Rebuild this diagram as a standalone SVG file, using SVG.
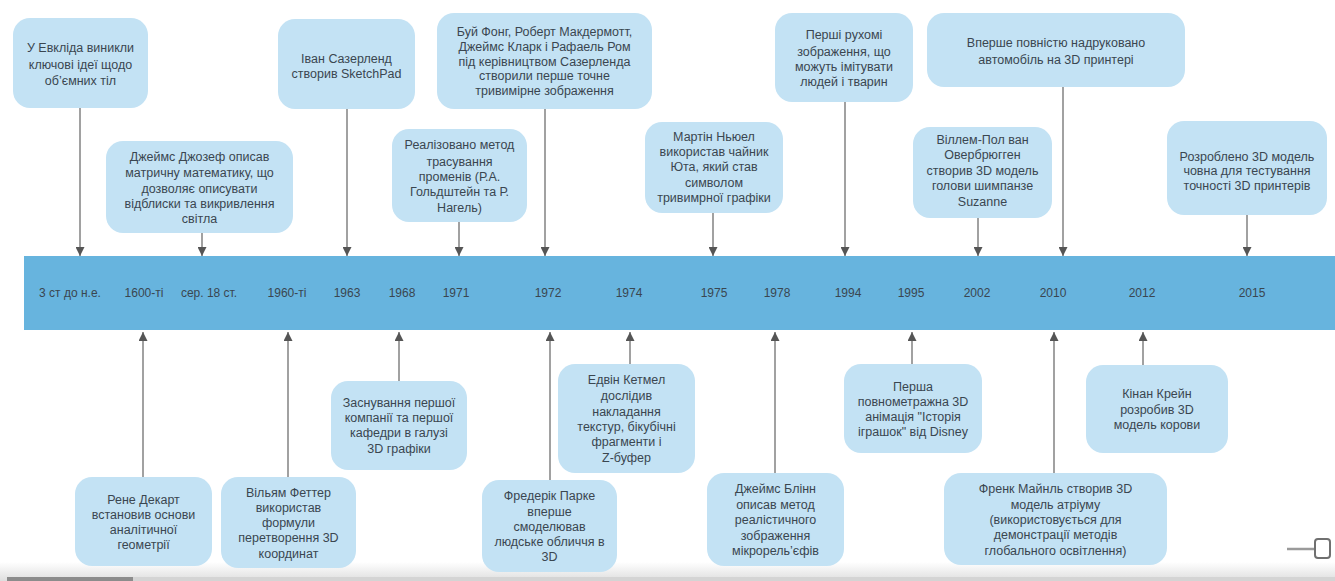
<svg xmlns="http://www.w3.org/2000/svg" width="1335" height="581" viewBox="0 0 1335 581">
<defs>
<marker id="ah" markerUnits="userSpaceOnUse" markerWidth="9" markerHeight="9" refX="9" refY="4.5" orient="auto">
<path d="M0,0 L9,4.5 L0,9 z" fill="#555"/>
</marker>
<linearGradient id="bottomfade" x1="0" y1="0" x2="0" y2="1">
<stop offset="0" stop-color="#ffffff"/>
<stop offset="1" stop-color="#dedede"/>
</linearGradient>
<style>
.box{fill:#c3e2f4;}
.t{font-family:"Liberation Sans",Arial,sans-serif;font-size:12.5px;fill:#3a4650;text-anchor:middle;}
.y{font-family:"Liberation Sans",Arial,sans-serif;font-size:12px;fill:#3a4650;text-anchor:middle;}
.c{stroke:#8a8a8a;stroke-width:1.6;fill:none;marker-end:url(#ah);}
</style>
</defs>
<rect width="1335" height="581" fill="#ffffff"/>
<rect x="0" y="562" width="1335" height="19" fill="url(#bottomfade)"/>
<rect x="7" y="577" width="126" height="4" fill="#8c8c8c"/>
<rect x="133" y="577" width="1202" height="4" fill="#d4d4d4"/>
<line x1="1287" y1="549" x2="1314" y2="549" stroke="#9a9a9a" stroke-width="2.5"/>
<rect x="1315" y="539" width="15" height="19" rx="3" fill="#ffffff" stroke="#707070" stroke-width="2"/>

<g id="timeline">
<rect x="24" y="256" width="1311" height="74" fill="#67b4de"/>
<text class="y" x="70" y="297">3 ст до н.е.</text>
<text class="y" x="144" y="297">1600-ті</text>
<text class="y" x="209" y="297">сер. 18 ст.</text>
<text class="y" x="287" y="297">1960-ті</text>
<text class="y" x="347" y="297">1963</text>
<text class="y" x="402" y="297">1968</text>
<text class="y" x="456" y="297">1971</text>
<text class="y" x="548" y="297">1972</text>
<text class="y" x="629" y="297">1974</text>
<text class="y" x="714" y="297">1975</text>
<text class="y" x="777" y="297">1978</text>
<text class="y" x="848" y="297">1994</text>
<text class="y" x="911" y="297">1995</text>
<text class="y" x="977" y="297">2002</text>
<text class="y" x="1053" y="297">2010</text>
<text class="y" x="1142" y="297">2012</text>
<text class="y" x="1252" y="297">2015</text>
</g>

<g id="connectors">
<line class="c" x1="80" y1="108" x2="80" y2="256"/>
<line class="c" x1="202" y1="233" x2="202" y2="256"/>
<line class="c" x1="347" y1="109" x2="347" y2="256"/>
<line class="c" x1="459" y1="222" x2="459" y2="256"/>
<line class="c" x1="545" y1="109" x2="545" y2="256"/>
<line class="c" x1="713" y1="213" x2="713" y2="256"/>
<line class="c" x1="845" y1="102" x2="845" y2="256"/>
<line class="c" x1="1063" y1="87" x2="1063" y2="256"/>
<line class="c" x1="978" y1="218" x2="978" y2="256"/>
<line class="c" x1="1247" y1="215" x2="1247" y2="256"/>
<line class="c" x1="143" y1="477" x2="143" y2="332"/>
<line class="c" x1="288" y1="477" x2="288" y2="332"/>
<line class="c" x1="399" y1="381" x2="399" y2="332"/>
<line class="c" x1="550" y1="480" x2="550" y2="332"/>
<line class="c" x1="630" y1="364" x2="630" y2="332"/>
<line class="c" x1="775" y1="473" x2="775" y2="332"/>
<line class="c" x1="912" y1="364" x2="912" y2="332"/>
<line class="c" x1="1054" y1="473" x2="1054" y2="332"/>
<line class="c" x1="1143" y1="365" x2="1143" y2="332"/>
</g>

<g id="n-euclid">
<rect class="box" x="13" y="18" width="135" height="90" rx="17"/>
<text class="t" x="80.5" y="52">У Евкліда виникли</text>
<text class="t" x="80.5" y="69">ключові ідеї щодо</text>
<text class="t" x="80.5" y="85">об’ємних тіл</text>
</g>
<g id="n-joseph">
<rect class="box" x="106" y="141" width="187" height="92" rx="17"/>
<text class="t" x="199.5" y="161">Джеймс Джозеф описав</text>
<text class="t" x="199.5" y="177">матричну математику, що</text>
<text class="t" x="199.5" y="193">дозволяє описувати</text>
<text class="t" x="199.5" y="208">відблиски та викривлення</text>
<text class="t" x="199.5" y="223">світла</text>
</g>
<g id="n-sutherland">
<rect class="box" x="278" y="19" width="137" height="90" rx="17"/>
<text class="t" x="346.5" y="63">Іван Сазерленд</text>
<text class="t" x="346.5" y="78">створив SketchPad</text>
</g>
<g id="n-raytrace">
<rect class="box" x="392" y="129" width="135" height="93" rx="17"/>
<text class="t" x="459.5" y="149">Реалізовано метод</text>
<text class="t" x="459.5" y="166">трасування</text>
<text class="t" x="459.5" y="181">променів (Р.А.</text>
<text class="t" x="459.5" y="196">Гольдштейн та Р.</text>
<text class="t" x="459.5" y="212">Нагель)</text>
</g>
<g id="n-phong">
<rect class="box" x="437" y="13" width="215" height="96" rx="17"/>
<text class="t" x="544.5" y="36">Буй Фонг, Роберт Макдермотт,</text>
<text class="t" x="544.5" y="51">Джеймс Кларк і Рафаель Ром</text>
<text class="t" x="544.5" y="66">під керівництвом Сазерленда</text>
<text class="t" x="544.5" y="80">створили перше точне</text>
<text class="t" x="544.5" y="95">тривимірне зображення</text>
</g>
<g id="n-newell">
<rect class="box" x="645" y="122" width="138" height="91" rx="17"/>
<text class="t" x="714" y="141">Мартін Ньюел</text>
<text class="t" x="714" y="156">використав чайник</text>
<text class="t" x="714" y="171">Юта, який став</text>
<text class="t" x="714" y="187">символом</text>
<text class="t" x="714" y="202">тривимрної графіки</text>
</g>
<g id="n-moving">
<rect class="box" x="775" y="13" width="138" height="89" rx="17"/>
<text class="t" x="844" y="39">Перші рухомі</text>
<text class="t" x="844" y="56">зображення, що</text>
<text class="t" x="844" y="71">можуть імітувати</text>
<text class="t" x="844" y="86">людей і тварин</text>
</g>
<g id="n-car">
<rect class="box" x="927" y="13" width="258" height="74" rx="17"/>
<text class="t" x="1056" y="47">Вперше повністю надруковано</text>
<text class="t" x="1056" y="64">автомобіль на 3D принтері</text>
</g>
<g id="n-suzanne">
<rect class="box" x="913" y="127" width="139" height="91" rx="17"/>
<text class="t" x="982.5" y="144">Віллем-Пол ван</text>
<text class="t" x="982.5" y="159">Овербрюгген</text>
<text class="t" x="982.5" y="175">створив 3D модель</text>
<text class="t" x="982.5" y="190">голови шимпанзе</text>
<text class="t" x="982.5" y="206">Suzanne</text>
</g>
<g id="n-boat">
<rect class="box" x="1167" y="121" width="160" height="94" rx="17"/>
<text class="t" x="1247" y="161">Розроблено 3D модель</text>
<text class="t" x="1247" y="175">човна для тестування</text>
<text class="t" x="1247" y="190">точності 3D принтерів</text>
</g>

<g id="n-descartes">
<rect class="box" x="75" y="477" width="137" height="89" rx="17"/>
<text class="t" x="143.5" y="504">Рене Декарт</text>
<text class="t" x="143.5" y="519">встановив основи</text>
<text class="t" x="143.5" y="534">аналітичної</text>
<text class="t" x="143.5" y="549">геометрії</text>
</g>
<g id="n-fetter">
<rect class="box" x="221" y="477" width="135" height="91" rx="17"/>
<text class="t" x="288.5" y="497">Вільям Феттер</text>
<text class="t" x="288.5" y="512">використав</text>
<text class="t" x="288.5" y="527">формули</text>
<text class="t" x="288.5" y="542">перетворення 3D</text>
<text class="t" x="288.5" y="558">координат</text>
</g>
<g id="n-company">
<rect class="box" x="331" y="381" width="136" height="89" rx="17"/>
<text class="t" x="399" y="407">Заснування першої</text>
<text class="t" x="399" y="422">компанії та першої</text>
<text class="t" x="399" y="437">кафедри в галузі</text>
<text class="t" x="399" y="453">3D графіки</text>
</g>
<g id="n-parke">
<rect class="box" x="482" y="480" width="135" height="92" rx="17"/>
<text class="t" x="549.5" y="500">Фредерік Парке</text>
<text class="t" x="549.5" y="516">вперше</text>
<text class="t" x="549.5" y="531">смоделював</text>
<text class="t" x="549.5" y="546">людське обличчя в</text>
<text class="t" x="549.5" y="561">3D</text>
</g>
<g id="n-catmull">
<rect class="box" x="558" y="364" width="137" height="109" rx="17"/>
<text class="t" x="626.5" y="384">Едвін Кетмел</text>
<text class="t" x="626.5" y="400">дослідив</text>
<text class="t" x="626.5" y="416">накладання</text>
<text class="t" x="626.5" y="431">текстур, бікубічні</text>
<text class="t" x="626.5" y="446">фрагменти і</text>
<text class="t" x="626.5" y="462">Z-буфер</text>
</g>
<g id="n-blinn">
<rect class="box" x="707" y="473" width="137" height="93" rx="17"/>
<text class="t" x="775.5" y="493">Джеймс Блінн</text>
<text class="t" x="775.5" y="509">описав метод</text>
<text class="t" x="775.5" y="524">реалістичного</text>
<text class="t" x="775.5" y="540">зображення</text>
<text class="t" x="775.5" y="555">мікрорель’єфів</text>
</g>
<g id="n-toystory">
<rect class="box" x="844" y="364" width="138" height="89" rx="17"/>
<text class="t" x="913" y="391">Перша</text>
<text class="t" x="913" y="406">повнометражна 3D</text>
<text class="t" x="913" y="421">анімація "Історія</text>
<text class="t" x="913" y="436">іграшок" від Disney</text>
</g>
<g id="n-meinl">
<rect class="box" x="944" y="473" width="223" height="92" rx="17"/>
<text class="t" x="1055.5" y="493">Френк Майнль створив 3D</text>
<text class="t" x="1055.5" y="509">модель атріуму</text>
<text class="t" x="1055.5" y="524">(використовується для</text>
<text class="t" x="1055.5" y="539">демонстрації методів</text>
<text class="t" x="1055.5" y="555">глобального освітлення)</text>
</g>
<g id="n-crane">
<rect class="box" x="1086" y="365" width="142" height="88" rx="17"/>
<text class="t" x="1157" y="398">Кінан Крейн</text>
<text class="t" x="1157" y="414">розробив 3D</text>
<text class="t" x="1157" y="429">модель корови</text>
</g>
</svg>
